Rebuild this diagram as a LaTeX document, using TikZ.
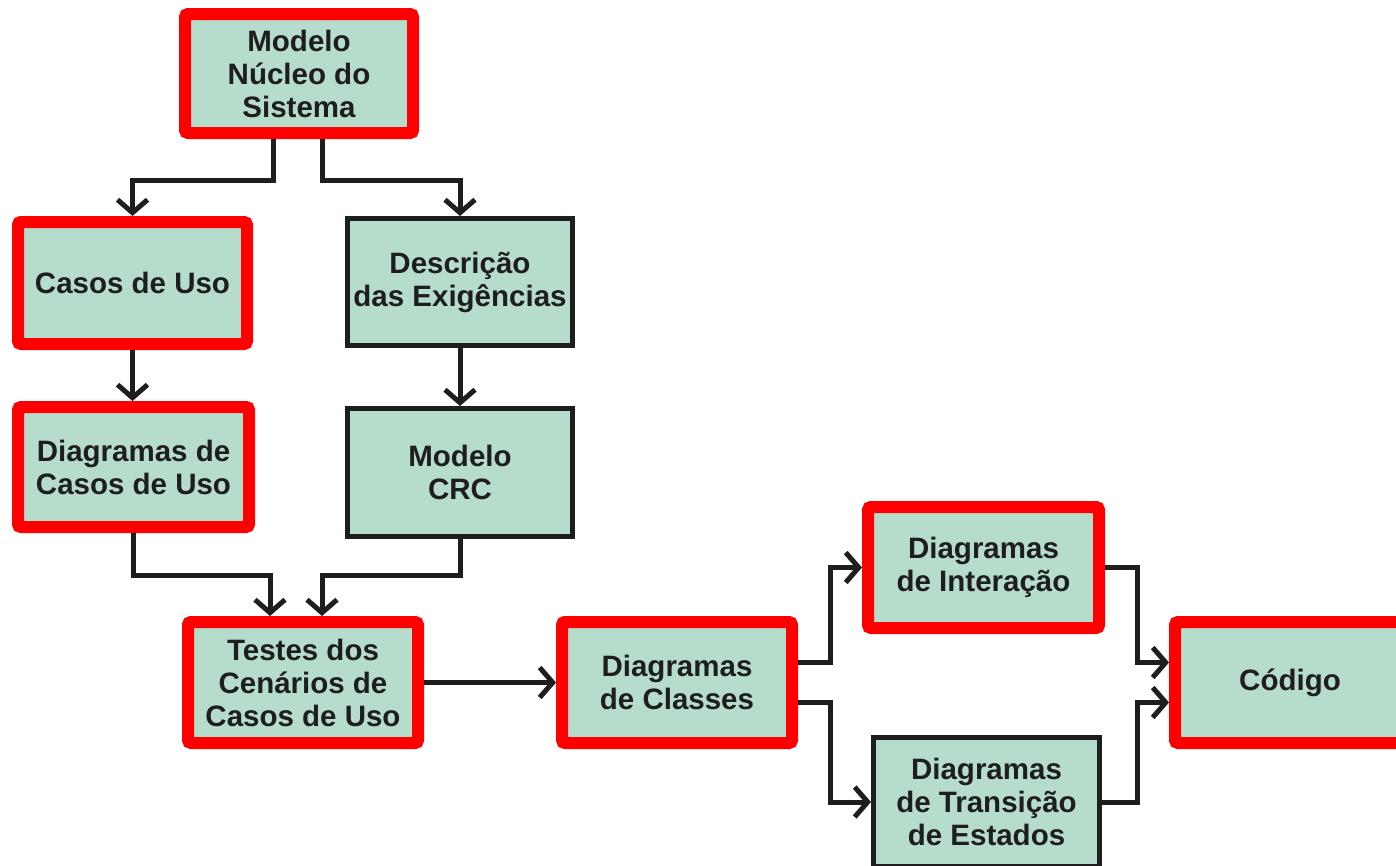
\documentclass[tikz,border=0pt]{standalone}
\usepackage{fontspec}
\setmainfont{Liberation Sans}
\usetikzlibrary{arrows.meta}
\definecolor{boxfill}{RGB}{182,220,203}
\definecolor{boxred}{RGB}{255,0,0}
\definecolor{ink}{RGB}{30,30,30}
\begin{document}
\begin{tikzpicture}[x=1pt,y=-1pt,
  every node/.style={font=\fontsize{29.5}{33}\selectfont\bfseries, text=ink, align=center, inner sep=0pt},
  redbox/.style={draw=boxred, fill=boxfill, line width=12pt, rounded corners=3pt},
  blackbox/.style={draw=ink, fill=boxfill, line width=5pt},
  conn/.style={draw=ink, line width=5pt, line join=miter,
    -{Straight Barb[length=13pt,width=30pt,line width=5pt]}}]
\useasboundingbox (0,0) rectangle (1396,865);

% process boxes
\node[redbox, minimum width=228pt, minimum height=119pt] (nucleo) at (299,73.5) {Modelo\\Núcleo do\\Sistema};
\node[redbox, minimum width=229pt, minimum height=122pt] (casos) at (132.5,283) {Casos de Uso};
\node[blackbox, minimum width=225pt, minimum height=127pt] (desc) at (460,282) {Descrição\\das Exigências};
\node[redbox, minimum width=231pt, minimum height=120pt] (dcasos) at (133.5,467) {Diagramas de\\Casos de Uso};
\node[blackbox, minimum width=225pt, minimum height=128pt] (crc) at (460,472.5) {Modelo\\CRC};
\node[redbox, minimum width=230pt, minimum height=121pt] (testes) at (303,682.5) {Testes dos\\Cenários de\\Casos de Uso};
\node[redbox, minimum width=230pt, minimum height=121pt] (classes) at (677,682.5) {Diagramas\\de Classes};
\node[redbox, minimum width=231pt, minimum height=121pt] (inter) at (983.5,567.5) {Diagramas\\de Interação};
\node[blackbox, minimum width=226pt, minimum height=129pt] (trans) at (986.5,802) {Diagramas\\de Transição\\de Estados};
\node[redbox, minimum width=230pt, minimum height=121pt] (codigo) at (1290,682.5) {Código};

% connectors
\draw[conn] ([xshift=-26pt]nucleo.south) -- ++(0,41) -| (casos.north);
\draw[conn] ([xshift=23pt]nucleo.south) -- ++(0,41) -| (desc.north);
\draw[conn] (casos.south) -- (casos.south |- dcasos.north);
\draw[conn] (desc.south) -- (crc.north);
\draw[conn] (dcasos.south) -- ++(0,42) -| ([xshift=-33pt]testes.north);
\draw[conn] (crc.south) -- ++(0,36) -| ([xshift=19pt]testes.north);
\draw[conn] (testes.east) -- (classes.west);
\draw[conn] ([yshift=20pt]classes.east) -- ++(32,0) |- (inter.west);
\draw[conn] ([yshift=-20pt]classes.east) -- ++(32,0) |- (trans.west);
\draw[conn] (inter.east) -- ++(32,0) |- ([yshift=20pt]codigo.west);
\draw[conn] (trans.east) -- ++(35,0) |- ([yshift=-20pt]codigo.west);
\end{tikzpicture}
\end{document}
